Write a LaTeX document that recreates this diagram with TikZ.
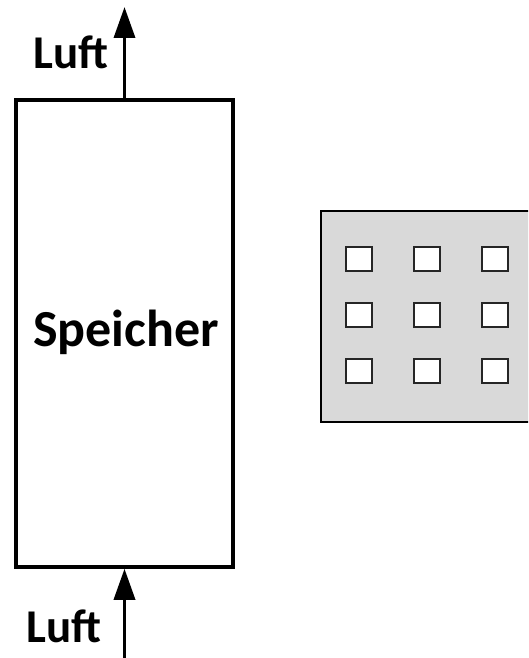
\documentclass[tikz,border=0pt]{standalone}
\usepackage{fontspec}
\setmainfont{Carlito}
\usetikzlibrary{arrows.meta}
\begin{document}
\begin{tikzpicture}[x=1pt,y=-1pt,
  thick line/.style={line width=3.5pt},
  flow/.style={thick line,-{Triangle[length=31pt,width=21pt]}},
  big text/.style={font=\fontsize{52}{56}\selectfont\bfseries,inner sep=0pt},
  label text/.style={font=\fontsize{47}{52}\selectfont\bfseries,inner sep=0pt},
  hole/.style={draw=black!85,line width=1.3pt,fill=white}]
\useasboundingbox (0,0) rectangle (528,658);
\clip (0,0) rectangle (528,658);
% storage column
\node[draw,thick line,minimum width=217pt,minimum height=467pt,inner sep=0pt]
  (speicher) at (124.5,333.5) {};
\node[big text,anchor=base] (speichertext) at (126,346) {Speicher};
% air flow in and out
\coordinate (outlet) at (124.5,7);
\coordinate (inlet) at (124.5,660);
\draw[flow] (speicher.north) -- (outlet);
\draw[flow] (inlet) -- (speicher.south);
\node[label text,anchor=base] (luftoben) at (71,69) {Luft};
\node[label text,anchor=base] (luftunten) at (64,642) {Luft};
% perforated plate
\draw[fill=black!15,line width=1.3pt] (321,211) rectangle (545,422);
\foreach \cx in {346,414,482}
  \foreach \cy in {247,303,359}
    \draw[hole] (\cx,\cy) rectangle ++(26,24);
\end{tikzpicture}
\end{document}
